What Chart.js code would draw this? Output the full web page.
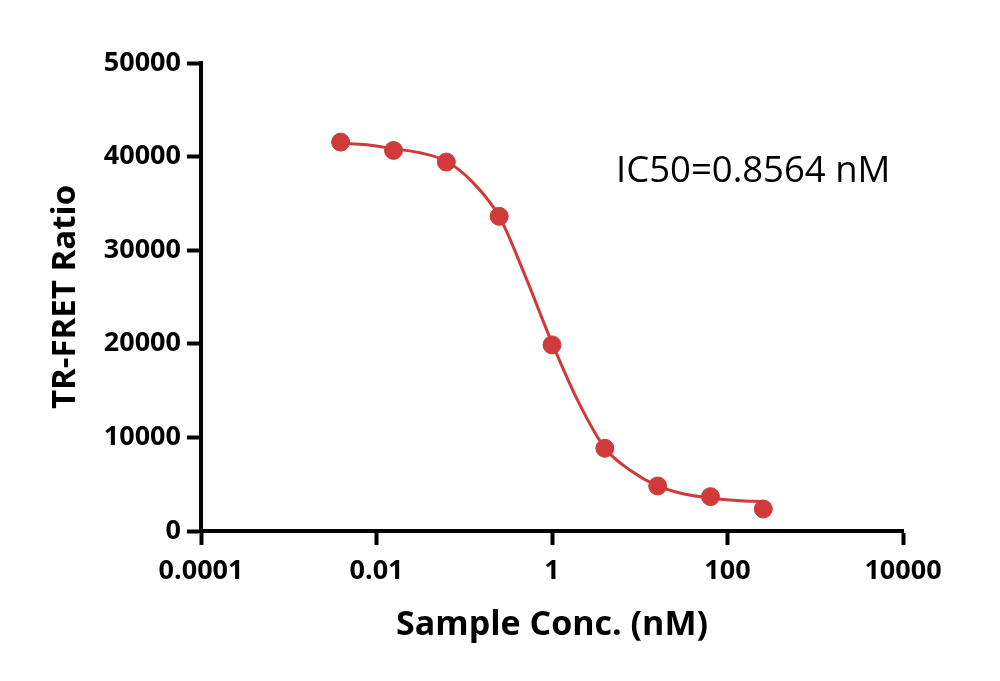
<!DOCTYPE html>
<html>
<head>
<meta charset="utf-8">
<script src="https://cdn.jsdelivr.net/npm/chart.js@4/dist/chart.umd.min.js"></script>
<style>
  body { margin: 0; background: #fff; }
  #wrap { width: 1000px; height: 681px; }
</style>
</head>
<body>
<div id="wrap"><canvas id="chart" width="1000" height="681"></canvas></div>
<script>
// measured points (nM, TR-FRET ratio)
const conc = [0.0039, 0.015625, 0.0625, 0.25, 1, 4, 16, 64, 256];
const ratio = [41550, 40660, 39420, 33620, 19880, 8840, 4810, 3670, 2350];

// fitted curve
const curveConc = [0.0039, 0.0078, 0.0156, 0.03125, 0.0625, 0.125, 0.25, 0.5, 1, 2, 4, 8, 16, 32, 64, 128, 256];
const curveRatio = [41420, 41260, 40840, 40410, 39500, 37250, 33620, 27150, 20100, 13790, 8870, 6410, 4810, 3950, 3530, 3260, 3130];

const xTicks = [0.0001, 0.01, 1, 100, 10000];
const xTickLabels = ['0.0001', '0.01', '1', '100', '10000'];
const yTicks = [0, 10000, 20000, 30000, 40000, 50000];

const red = 'rgb(209, 58, 58)';

Chart.defaults.font.family = '"Open Sans", sans-serif';
Chart.defaults.color = '#000';

// IC50 label
const ic50Label = {
  id: 'ic50Label',
  afterDraw(chart) {
    const ctx = chart.ctx;
    ctx.save();
    ctx.font = '36.5px "Open Sans"';
    ctx.fillStyle = '#000';
    ctx.textBaseline = 'alphabetic';
    ctx.fillText('IC50=0.8564 nM', 616, 182);
    ctx.restore();
  }
};

new Chart(document.getElementById('chart'), {
  type: 'scatter',
  data: {
    datasets: [{
      label: 'data',
      data: conc.map((c, i) => ({ x: c, y: ratio[i] })),
      backgroundColor: red,
      borderColor: red,
      pointRadius: 9,
      pointHoverRadius: 9,
      showLine: false
    }, {
      label: 'fit',
      data: curveConc.map((c, i) => ({ x: c, y: curveRatio[i] })),
      borderColor: red,
      borderWidth: 3,
      pointRadius: 0,
      showLine: true,
      cubicInterpolationMode: 'monotone'
    }]
  },
  options: {
    responsive: false,
    animation: false,
    devicePixelRatio: 1,
    layout: { padding: { top: 63, right: 97, left: 0, bottom: 0 } },
    plugins: {
      legend: { display: false },
      tooltip: { enabled: false }
    },
    scales: {
      x: {
        type: 'logarithmic',
        min: 0.0001,
        max: 10000,
        afterBuildTicks: s => { s.ticks = xTicks.map(v => ({ value: v })); },
        afterFit: s => { s.height = 150; },
        ticks: {
          callback: (v, i) => xTickLabels[i],
          font: { size: 27, weight: 'bold' },
          padding: 10,
          maxRotation: 0,
          autoSkip: false
        },
        grid: { drawOnChartArea: false, color: '#000', tickLength: 14, tickWidth: 4 },
        border: { color: '#000', width: 4 },
        title: {
          display: true,
          text: 'Sample Conc. (nM)',
          font: { size: 34, weight: 'bold' },
          padding: { bottom: 35 }
        }
      },
      y: {
        min: 0,
        max: 50000,
        afterBuildTicks: s => { s.ticks = yTicks.map(v => ({ value: v })); },
        afterFit: s => { s.width = 201; },
        ticks: {
          callback: v => String(v),
          font: { size: 27, weight: 'bold' },
          padding: 6
        },
        grid: { drawOnChartArea: false, color: '#000', tickLength: 14, tickWidth: 4 },
        border: { color: '#000', width: 4 },
        title: {
          display: true,
          text: 'TR-FRET Ratio',
          font: { size: 33, weight: 'bold' },
          padding: { top: 46 }
        }
      }
    }
  },
  plugins: [ic50Label]
});
</script>
</body>
</html>
